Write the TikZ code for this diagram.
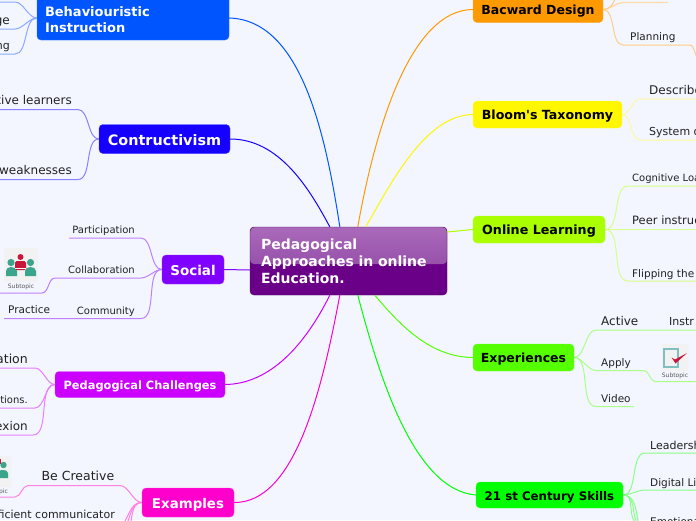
\documentclass[tikz,border=0pt]{standalone}
\usepackage{fontspec}
\setmainfont{DejaVu Sans}
\usetikzlibrary{calc}
\definecolor{bgc}{HTML}{F3F6FF}
\definecolor{txt}{HTML}{222222}
\definecolor{tealc}{HTML}{3AA58C}
\definecolor{redc}{HTML}{C8173A}
\tikzset{
  x=1pt,y=-1pt,
  branch/.style={rectangle,rounded corners=4pt,inner sep=0pt,align=center,text height=#1*0.85pt,text depth=0pt,font=\bfseries\fontsize{#1}{16}\selectfont},
  sub/.style={font=\fontsize{#1}{12}\selectfont,text=txt,inner sep=0pt,anchor=base west},
  subr/.style={font=\fontsize{#1}{12}\selectfont,text=txt,inner sep=0pt,anchor=base east},
  main/.style={line width=1pt},
  lnk/.style={line width=1pt},
  icn/.style={fill=black!5!white,draw=none,rounded corners=1pt,minimum width=34pt,minimum height=34pt,inner sep=0pt},
  captxt/.style={font=\fontsize{6}{7}\selectfont,text=black!65,inner sep=0pt},
}
\begin{document}
\begin{tikzpicture}
\useasboundingbox (0,0) rectangle (696,520);
\clip (0,0) rectangle (696,520);
\fill[bgc] (0,0) rectangle (696,520);

% branches
\node[rectangle,rounded corners=4pt,inner sep=0pt,font=\bfseries\fontsize{13}{16}\selectfont,text height=14pt,fill={rgb,255:red,0;green,85;blue,255},draw={rgb,255:red,40;green,110;blue,255},minimum width=192pt,minimum height=44pt,text width=176pt,align=left,text=white] (bi) at (133,18) {Behaviouristic\\Instruction};
\node[branch=14.4,fill={rgb,255:red,21;green,0;blue,255},draw={rgb,255:red,70;green,60;blue,255},minimum width=131pt,minimum height=29pt,text=white] (co) at (164.5,139) {Contructivism};
\node[branch=13.5,fill={rgb,255:red,127;green,0;blue,255},draw={rgb,255:red,150;green,60;blue,255},minimum width=62pt,minimum height=29pt,text=white] (so) at (193,269.5) {Social};
\node[branch=11.4,fill={rgb,255:red,204;green,0;blue,255},draw={rgb,255:red,215;green,60;blue,255},minimum width=170pt,minimum height=26pt,text=white] (pe) at (140,384.5) {Pedagogical Challenges};
\node[branch=13.4,fill={rgb,255:red,255;green,0;blue,204},draw={rgb,255:red,255;green,60;blue,215},minimum width=92pt,minimum height=29pt,text=white] (ex) at (188,502.5) {Examples};
\node[branch=12.5,fill={rgb,255:red,255;green,153;blue,0},draw={rgb,255:red,255;green,170;blue,50},minimum width=130pt,minimum height=26pt,text=black] (ba) at (538,9.5) {Bacward Design};
\node[branch=12.6,fill={rgb,255:red,255;green,247;blue,0},draw={rgb,255:red,255;green,250;blue,60},minimum width=149pt,minimum height=27pt,text=black] (bl) at (547.5,114.5) {Bloom\textquotesingle s Taxonomy};
\node[branch=12.7,fill={rgb,255:red,170;green,255;blue,0},draw={rgb,255:red,185;green,255;blue,60},minimum width=132pt,minimum height=27pt,text=black] (on) at (539,229.5) {Online Learning};
\node[branch=12.5,fill={rgb,255:red,85;green,255;blue,0},draw={rgb,255:red,110;green,255;blue,60},minimum width=101pt,minimum height=27pt,text=black] (xp) at (523.5,357.5) {Experiences};
\node[branch=11.8,fill={rgb,255:red,0;green,255;blue,0},draw={rgb,255:red,60;green,255;blue,60},minimum width=147pt,minimum height=26pt,text=black] (ce) at (549.5,495) {21 st Century Skills};

% root
\node[rectangle,rounded corners=4pt,inner xsep=11pt,inner ysep=0pt,minimum height=68pt,text width=175pt,align=left,
  draw={rgb,255:red,74;green,0;blue,96},fill={rgb,255:red,106;green,0;blue,135},text=white,
  font=\bfseries\fontsize{14}{17}\selectfont,
  path picture={\shade[top color={rgb,255:red,170;green,106;blue,186},bottom color={rgb,255:red,136;green,60;blue,158}]
    (path picture bounding box.north west) rectangle ([yshift=-37pt]path picture bounding box.north east);}
  ] (root) at (348.5,261) {Pedagogical\\Approaches in online\\Education.};

% attachment points on root
\coordinate (rn1) at ($(root.north west)+(90,0)$);
\coordinate (rn2) at ($(root.north west)+(80,0)$);
\coordinate (rn3) at ($(root.north west)+(108,0)$);
\coordinate (rn4) at ($(root.north west)+(116,0)$);
\coordinate (rs1) at ($(root.south west)+(80,0)$);
\coordinate (rs2) at ($(root.south west)+(90,0)$);
\coordinate (rs3) at ($(root.south west)+(108,0)$);
\coordinate (rs4) at ($(root.south west)+(125,0)$);
\coordinate (rw) at ($(root.west)+(0,9)$);
\coordinate (re) at ($(root.east)+(0,-29)$);

\draw[main,draw={rgb,255:red,0;green,85;blue,255}] (bi.east) .. controls (300,20) and (325,130) .. (rn1);
\draw[main,draw={rgb,255:red,21;green,0;blue,255}] (co.east) .. controls (280,139) and (310,190) .. (rn2);
\draw[main,draw={rgb,255:red,127;green,0;blue,255}] (so.east) -- (rw);
\draw[main,draw={rgb,255:red,204;green,0;blue,255}] (pe.east) .. controls (270,384) and (305,345) .. (rs1);
\draw[main,draw={rgb,255:red,255;green,0;blue,204}] (ex.east) .. controls (295,503) and (322,390) .. (rs2);
\draw[main,draw={rgb,255:red,255;green,153;blue,0}] (ba.west) .. controls (410,10) and (375,130) .. (rn3);
\draw[main,draw={rgb,255:red,255;green,247;blue,0}] (bl.west) .. controls (425,115) and (390,185) .. (rn4);
\draw[main,draw={rgb,255:red,170;green,255;blue,0}] (on.west) -- (re);
\draw[main,draw={rgb,255:red,85;green,255;blue,0}] (xp.west) .. controls (430,357) and (400,325) .. (rs4);
\draw[main,draw={rgb,255:red,0;green,255;blue,0}] (ce.west) .. controls (415,490) and (380,380) .. (rs3);

% --- left subtopics
\definecolor{lbi}{HTML}{88AAFF}\definecolor{lco}{HTML}{8A80FF}\definecolor{lso}{HTML}{BF80FF}
\definecolor{lpe}{HTML}{E680FF}\definecolor{lex}{HTML}{FF80E6}
\definecolor{lba}{HTML}{FFCC88}\definecolor{lbl}{HTML}{FFF8A0}\definecolor{lon}{HTML}{D5FF88}
\definecolor{lxp}{HTML}{AAFF88}\definecolor{lce}{HTML}{88FF88}

\node[subr=12] (t1) at (10,24) {ge};
\node[subr=11] (t2) at (10,49) {ng};
\coordinate (a0) at (15,2);\coordinate (a0e) at (0,2);
\coordinate (a1) at (15,29);\coordinate (a1e) at (0,29);
\coordinate (a2) at (15,54);\coordinate (a2e) at (0,54);
\draw[lnk,lbi] (bi.west) to[out=180,in=0,looseness=.8] (a0) -- (a0e);
\draw[lnk,lbi] (bi.west) to[out=180,in=0,looseness=.8] (a1) -- (a1e);
\draw[lnk,lbi] (bi.west) to[out=180,in=0,looseness=.8] (a2) -- (a2e);

\node[subr=12] (t3) at (72,104) {tive learners};
\node[subr=12] (t4) at (72,174) {weaknesses};
\coordinate (b1) at (78,109.5);\coordinate (b1e) at (0,109.5);
\coordinate (b2) at (78,179.5);\coordinate (b2e) at (0,179.5);
\draw[lnk,lco] (co.west) to[out=180,in=0,looseness=.8] (b1) -- (b1e);
\draw[lnk,lco] (co.west) to[out=180,in=0,looseness=.8] (b2) -- (b2e);

\node[subr=10] (t5) at (135,233) {Participation};
\node[subr=10] (t6) at (135,273) {Collaboration};
\node[subr=10] (t7) at (135,314) {Community};
\node[sub=10.5] (t8) at (8,313) {Practice};
\coordinate (c1) at (141,238);\coordinate (c1e) at (69,238);
\coordinate (c2) at (141,278);\coordinate (c2e) at (55,278);
\coordinate (c3) at (141,318.5);\coordinate (c3e) at (4,318.5);
\coordinate (c4) at (42,293);\coordinate (c4e) at (0,293);
\draw[lnk,lso] (so.west) to[out=180,in=0,looseness=.8] (c1) -- (c1e);
\draw[lnk,lso] (so.west) to[out=180,in=0,looseness=.8] (c2) -- (c2e);
\draw[lnk,lso] (so.west) to[out=180,in=0,looseness=.8] (c3) -- (c3e);
\draw[lnk,lso] (c2e) to[out=180,in=0,looseness=.9] (c4) -- (c4e);

\node[icn] (i1) at (21,265) {};
\fill[tealc] (6,276) -- (6,271) to[out=90,in=180] (11,267) to[out=0,in=90] (17,271) -- (17,276) -- cycle;
\fill[tealc] (25,276) -- (25,271) to[out=90,in=180] (30.5,267) to[out=0,in=90] (36,271) -- (36,276) -- cycle;
\fill[tealc] (11,262.5) circle (3.6) (30.5,262.5) circle (3.6);
\fill[redc] (20.5,257) circle (3);
\fill[redc,rounded corners=1.5pt] (15,261) rectangle (26,270);
\draw[white,line width=.5pt] (15,268) -- (26,268);
\node[captxt] (i1c) at (21,287) {Subtopic};

\node[subr=12.5] (t9) at (28,363) {ation};
\node[subr=10] (t10) at (28,403) {tions.};
\node[subr=12] (t11) at (28,430) {exion};
\coordinate (d1) at (35,368);\coordinate (d1e) at (0,368);
\coordinate (d2) at (35,408);\coordinate (d2e) at (0,408);
\coordinate (d3) at (33,435);\coordinate (d3e) at (0,435);
\draw[lnk,lpe] (pe.west) to[out=180,in=0,looseness=.8] (d1) -- (d1e);
\draw[lnk,lpe] (pe.west) to[out=180,in=0,looseness=.8] (d2) -- (d2e);
\draw[lnk,lpe] (pe.west) to[out=180,in=0,looseness=.8] (d3) -- (d3e);

\node[subr=12.5] (t12) at (114.5,480) {Be Creative};
\node[subr=11] (t13) at (115,518) {ficient communicator};
\coordinate (e1) at (120,485.5);\coordinate (e1e) at (28,485.5);
\coordinate (e2) at (15,497);\coordinate (e2e) at (0,497);
\coordinate (e3) at (125,521);\coordinate (e4) at (128,521);\coordinate (e5) at (131,521);
\draw[lnk,lex] (ex.west) to[out=180,in=0,looseness=.8] (e1) -- (e1e);
\draw[lnk,lex] (e1e) to[out=180,in=0,looseness=.9] (e2) -- (e2e);
\draw[lnk,lex] (ex.west) to[out=180,in=60] (e3);
\draw[lnk,lex] (ex.west) to[out=180,in=70] (e4);
\draw[lnk,lex] (ex.west) to[out=180,in=80] (e5);
\node[icn,minimum width=22pt,minimum height=31pt] (i2) at (0,471.5) {};
\fill[tealc] (-3,478) -- (-3,473) to[out=90,in=180] (3,470) to[out=0,in=90] (8,473) -- (8,478) -- cycle;
\fill[tealc] (3.5,465) circle (3.2);
\fill[redc] (-1,459) rectangle (1,464);
\node[captxt,anchor=base east] (i2c) at (8,493) {pic};

% --- right subtopics
\coordinate (f0) at (623,2.5);\coordinate (f0e) at (668,2.5);
\coordinate (f1) at (615,-1);
\coordinate (f2) at (623,45);\coordinate (f2e) at (690,45);
\coordinate (f3) at (700,60);
\node[sub=10.5] (t14) at (630,40) {Planning};
\draw[line width=1.4pt,lba!70!white] (ba.east) to[out=0,in=180,looseness=.8] (f0) -- (f0e);
\draw[lnk,lba] (ba.east) to[out=0,in=-110] (f1);
\draw[lnk,lba] (ba.east) to[out=0,in=180,looseness=.8] (f2) -- (f2e) to[out=0,in=180,looseness=.7] (f3);

\coordinate (g1) at (640,99);\coordinate (g1e) at (696,99);
\coordinate (g2) at (640,140);\coordinate (g2e) at (696,140);
\node[sub=12] (t15) at (649,94) {Describe};
\node[sub=11] (t16) at (649,135) {System o};
\draw[lnk,lbl] (bl.east) to[out=0,in=180,looseness=.8] (g1) -- (g1e);
\draw[lnk,lbl] (bl.east) to[out=0,in=180,looseness=.8] (g2) -- (g2e);

\coordinate (h1) at (628,186);\coordinate (h1e) at (696,186);
\coordinate (h2) at (628,229.5);\coordinate (h2e) at (696,229.5);
\coordinate (h3) at (628,281);\coordinate (h3e) at (696,281);
\node[sub=10] (t17) at (632,181) {Cognitive Loa};
\node[sub=11.5] (t18) at (632,224) {Peer instruc};
\node[sub=10.5] (t19) at (632,277) {Flipping the};
\draw[lnk,lon] (on.east) to[out=0,in=180,looseness=.8] (h1) -- (h1e);
\draw[lnk,lon] (on.east) to[out=0,in=180] (h2) -- (h2e);
\draw[lnk,lon] (on.east) to[out=0,in=180,looseness=.8] (h3) -- (h3e);

\coordinate (j1) at (596,330);\coordinate (j1e) at (696,330);
\coordinate (j2) at (596,370.5);\coordinate (j2e) at (644,370.5);
\coordinate (j3) at (655,381.5);\coordinate (j3e) at (696,381.5);
\coordinate (j4) at (596,406.5);\coordinate (j4e) at (634,406.5);
\node[sub=12] (t20) at (601,325) {Active};
\node[sub=11] (t21) at (669,325) {Instr};
\node[sub=10.5] (t22) at (601,366) {Apply};
\node[sub=10.5] (t23) at (601,402) {Video};
\draw[lnk,lxp] (xp.east) to[out=0,in=180,looseness=.8] (j1) -- (j1e);
\draw[lnk,lxp] (xp.east) to[out=0,in=180,looseness=.8] (j2) -- (j2e) to[out=0,in=180,looseness=.8] (j3) -- (j3e);
\draw[lnk,lxp] (xp.east) to[out=0,in=180,looseness=.8] (j4) -- (j4e);
\node[icn,minimum width=27pt,minimum height=27pt] (i3) at (675,357.5) {};
\draw[line width=1.2pt,teal!50!white] (664,349) rectangle (678,367);
\fill[redc] (671.5,357.5) -- (675,359.5) -- (687,353) -- (675.5,363.5) -- cycle;
\node[captxt] (i3c) at (675,376) {Subtopic};

\coordinate (k1) at (645,453);\coordinate (k1e) at (696,453);
\coordinate (k2) at (645,490);\coordinate (k2e) at (696,490);
\coordinate (k3) at (638,521);\coordinate (k4) at (636,521);\coordinate (k5) at (634,521);
\node[sub=11] (t24) at (650,449) {Leadersh};
\node[sub=10.5] (t25) at (650,486) {Digital Li};
\node[sub=10.5] (t26) at (650,525) {Emotiona};
\draw[lnk,lce] (ce.east) to[out=0,in=180,looseness=.8] (k1) -- (k1e);
\draw[lnk,lce] (ce.east) to[out=0,in=180,looseness=.8] (k2) -- (k2e);
\draw[lnk,lce] (ce.east) to[out=0,in=100] (k3);
\draw[lnk,lce] (ce.east) to[out=0,in=110] (k4);
\draw[lnk,lce] (ce.east) to[out=0,in=120] (k5);
\end{tikzpicture}
\end{document}
